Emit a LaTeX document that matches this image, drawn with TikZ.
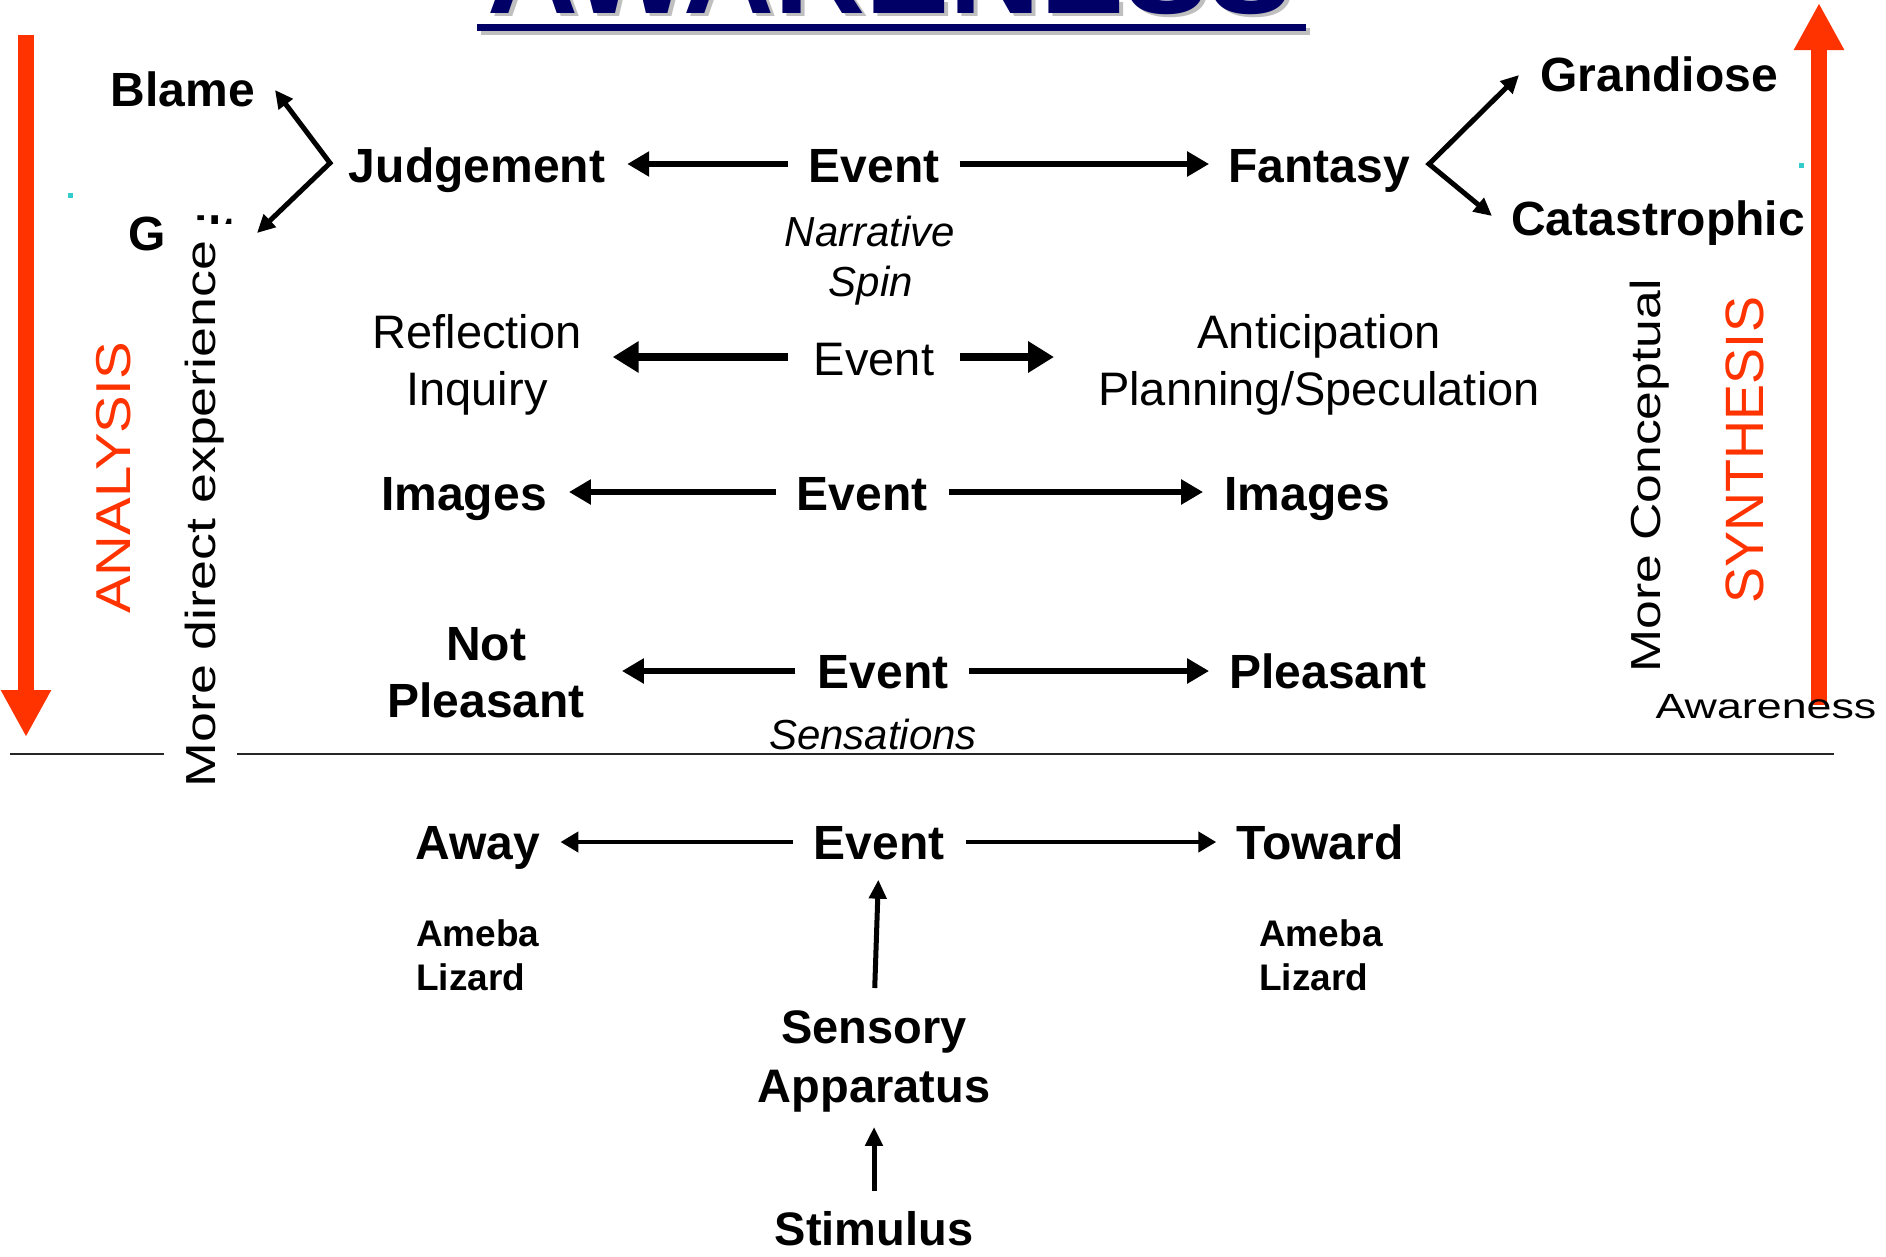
\documentclass[tikz,border=0pt]{standalone}
\usepackage{fontspec}
\usepackage{graphicx}
\setmainfont{Liberation Sans}
\usetikzlibrary{arrows.meta}
\definecolor{redarr}{HTML}{FF3300}
\definecolor{navy}{HTML}{000066}
\definecolor{shadowgray}{HTML}{BFBFBF}
\definecolor{cyandot}{HTML}{33CCCC}
\begin{document}
\begin{tikzpicture}[x=1pt,y=-1pt,
  lbl/.style={inner sep=0pt, anchor=base, font=\fontsize{48}{56}\selectfont\bfseries},
  reg/.style={inner sep=0pt, anchor=base, font=\fontsize{47}{56}\selectfont},
  ital/.style={inner sep=0pt, anchor=base, font=\fontsize{42}{50}\selectfont\itshape},
  smallb/.style={inner sep=0pt, anchor=base west, font=\fontsize{37}{44}\selectfont\bfseries},
  midb/.style={inner sep=0pt, anchor=base, font=\fontsize{47}{56}\selectfont\bfseries},
  vtext/.style={inner sep=0pt, anchor=base, rotate=90},
  arr/.style={line width=6pt, -{Triangle[length=22pt,width=24pt]}},
  arrB/.style={line width=8pt, -{Triangle[length=26pt,width=30pt]}},
  arrC/.style={line width=4.5pt, -{Triangle[length=18pt,width=20pt]}},
  arrV/.style={line width=5pt, -{Triangle[length=19pt,width=17pt]}},
  fork/.style={line width=5pt, line join=miter, {Triangle[length=18pt,width=17pt]}-{Triangle[length=18pt,width=17pt]}},
  bigred/.style={line width=16pt, draw=redarr, -{Triangle[length=47pt,width=47pt]}}
]
\useasboundingbox (0,0) rectangle (1886,1256);
\clip (0,0) rectangle (1886,1256);

% title (cut off at the top)
\node[inner sep=0pt, anchor=base, font=\fontsize{126}{130}\selectfont\bfseries, text=shadowgray] (titlesh) at (894,16) {AWARENESS};
\node[inner sep=0pt, anchor=base, font=\fontsize{126}{130}\selectfont\bfseries, text=navy] (title) at (890,13) {AWARENESS};
\fill[shadowgray] (481,28) rectangle (1310,35);
\fill[navy] (477,24) rectangle (1306,31);

% big red arrows
\draw[bigred] (26,35) -- (26,737);
\draw[bigred] (1819,705) -- (1819,3);

% cyan specks
\fill[cyandot] (68,193) rectangle (73,198);
\fill[cyandot] (1799,163) rectangle (1804,168);

% row 1
\node[lbl] (jud) at (477,182) {Judgement};
\node[lbl] (ev1) at (874,182) {Event};
\node[lbl] (fan) at (1319,182) {Fantasy};
\coordinate (r1) at (0,164);
\draw[arr, shorten <=20pt, shorten >=22pt] (ev1.west |- r1) -- (jud.east |- r1);
\draw[arr, shorten <=20pt, shorten >=19pt] (ev1.east |- r1) -- (fan.west |- r1);
\node[ital] (narr) at (870,246) {Narrative};
\node[ital] (spin) at (871,296) {Spin};

\node[lbl] (blame) at (183,106) {Blame};
\node[lbl, anchor=base west] (guilt) at (128,250) {Guilt};
\coordinate (jv) at (330,163);
\coordinate (jb) at (275,90);
\coordinate (jg) at (257,233);
\draw[fork] (jb) -- (jv) -- (jg);

\node[lbl] (grand) at (1659,91) {Grandiose};
\node[lbl] (cata) at (1658,235) {Catastrophic};
\coordinate (fv) at (1429,164);
\coordinate (fg) at (1519,75);
\coordinate (fc) at (1492,216);
\draw[fork] (fg) -- (fv) -- (fc);

% row 2
\node[reg] (refl) at (477,348) {Reflection};
\node[reg] (inq) at (477,405) {Inquiry};
\node[reg] (ev2) at (874,375) {Event};
\node[reg] (ant) at (1319,348) {Anticipation};
\node[reg] (plan) at (1319,405) {Planning/Speculation};
\coordinate (r2) at (0,357);
\draw[arrB, shorten <=26pt, shorten >=31pt] (ev2.west |- r2) -- (refl.east |- r2);
\draw[arrB, shorten <=26pt, shorten >=44pt] (ev2.east |- r2) -- (plan.west |- r2);

% row 3
\node[lbl] (imgL) at (464,510) {Images};
\node[lbl] (ev3) at (862,510) {Event};
\node[lbl] (imgR) at (1307,510) {Images};
\coordinate (r3) at (0,492);
\draw[arr, shorten <=20pt, shorten >=22pt] (ev3.west |- r3) -- (imgL.east |- r3);
\draw[arr, shorten <=21pt, shorten >=21pt] (ev3.east |- r3) -- (imgR.west |- r3);

% row 4
\node[lbl] (notL) at (486,660) {Not};
\node[lbl] (pleL) at (486,717) {Pleasant};
\node[lbl] (ev4) at (883,688) {Event};
\node[lbl] (pleR) at (1328,688) {Pleasant};
\coordinate (r4) at (0,671);
\draw[arr, shorten <=22pt, shorten >=37pt] (ev4.west |- r4) -- (pleL.east |- r4);
\draw[arr, shorten <=20pt, shorten >=20pt] (ev4.east |- r4) -- (pleR.west |- r4);
\node[ital] (sens2) at (873,749) {Sensations};

% separator line
\draw[line width=2pt, black!85] (10,754) -- (1834,754);

% guilt covered by the white box of the vertical label
\fill[white] (164,224) rectangle (237,800);
\node[vtext, font=\fontsize{42}{50}\selectfont] (mde) at (215,514) {\scalebox{1.28}[1]{More direct experience}};
\node[vtext, font=\fontsize{49}{56}\selectfont, text=redarr] (ana) at (130,478) {\scalebox{1.15}[1]{ANALYSIS}};
\node[vtext, font=\fontsize{42}{50}\selectfont] (mc) at (1660,476) {\scalebox{1.23}[1]{More Conceptual}};
\node[vtext, font=\fontsize{54}{60}\selectfont, text=redarr] (syn) at (1763,450) {SYNTHESIS};
\node[inner sep=0pt, anchor=base, font=\fontsize{35}{40}\selectfont] (aw) at (1766,718) {\scalebox{1.28}[1]{Awareness}};

% row 5
\node[lbl] (away) at (478,859) {Away};
\node[lbl] (ev5) at (879,859) {Event};
\node[lbl] (tow) at (1320,859) {Toward};
\coordinate (r5) at (0,842);
\draw[arrC, shorten <=20pt, shorten >=20pt] (ev5.west |- r5) -- (away.east |- r5);
\draw[arrC, shorten <=21pt, shorten >=20pt] (ev5.east |- r5) -- (tow.west |- r5);

\node[smallb] (amL) at (416,946) {Ameba};
\node[smallb] (lzL) at (416,990) {Lizard};
\node[smallb] (amR) at (1259,946) {Ameba};
\node[smallb] (lzR) at (1259,990) {Lizard};

\node[midb] (sens) at (874,1043) {Sensory};
\node[midb] (app) at (874,1102) {Apparatus};
\node[midb] (stim) at (874,1245) {Stimulus};
\draw[arrV, shorten <=22pt, shorten >=20pt] (sens.north) -- (ev5.south);
\draw[arrV, shorten <=20pt, shorten >=15pt] (stim.north) -- (app.south);
\end{tikzpicture}
\end{document}
